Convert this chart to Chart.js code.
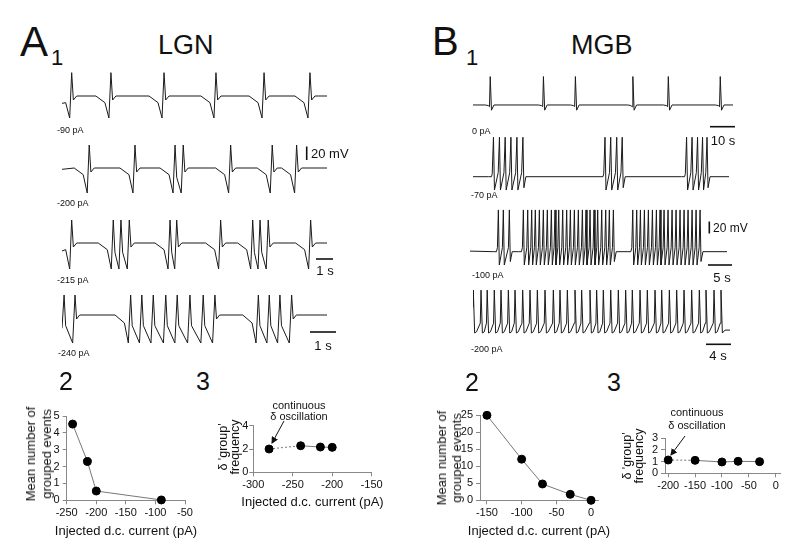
<!DOCTYPE html>
<html lang="en">
<head>
<meta charset="UTF-8">
<title>LGN / MGB grouped events</title>
<script src="https://cdn.jsdelivr.net/npm/chart.js"></script>
<style>
  body { margin: 0; background: #fff; }
  #fig { position: relative; width: 800px; height: 559px; overflow: hidden; font-family: "Liberation Sans", Arial, sans-serif; color: #111; }
  canvas { position: absolute; }
  .t { position: absolute; line-height: 1; white-space: nowrap; }
  .c { transform: translateX(-50%); }
  .xt { transform: translate(-50%, -50%); font-size: 13px; }
  .rot { transform: translate(-50%, -50%) rotate(-90deg); text-align: center; }
  svg { position: absolute; left: 0; top: 0; pointer-events: none; }
</style>
</head>
<body>
<div id="fig">
  <!-- headings -->
  <div class="t" style="left:20px;top:21px;font-size:42px">A</div>
  <div class="t" style="left:51px;top:47px;font-size:22px">1</div>
  <div class="t" style="left:158px;top:32px;font-size:27px">LGN</div>
  <div class="t" style="left:432px;top:21px;font-size:40px">B</div>
  <div class="t" style="left:466px;top:47px;font-size:22px">1</div>
  <div class="t" style="left:571px;top:32px;font-size:27px">MGB</div>

  <!-- voltage traces -->
  <canvas id="lgn90"  width="265" height="60" style="left:62px;top:66px"></canvas>
  <canvas id="lgn200" width="265" height="60" style="left:62px;top:138px"></canvas>
  <canvas id="lgn215" width="265" height="60" style="left:62px;top:213px"></canvas>
  <canvas id="lgn240" width="265" height="60" style="left:62px;top:285px"></canvas>
  <canvas id="mgb0"   width="260" height="50" style="left:473px;top:70px"></canvas>
  <canvas id="mgb70"  width="256" height="60" style="left:473px;top:133px"></canvas>
  <canvas id="mgb100" width="257" height="65" style="left:470px;top:205px"></canvas>
  <canvas id="mgb200" width="257" height="52" style="left:473px;top:285px"></canvas>

  <div class="t" style="left:57px;top:126px;font-size:9px">-90 pA</div>
  <div class="t" style="left:57px;top:199px;font-size:9px">-200 pA</div>
  <div class="t" style="left:57px;top:276px;font-size:9px">-215 pA</div>
  <div class="t" style="left:58px;top:349px;font-size:9px">-240 pA</div>
  <div class="t" style="left:472px;top:127px;font-size:9px">0 pA</div>
  <div class="t" style="left:471px;top:191px;font-size:9px">-70 pA</div>
  <div class="t" style="left:472px;top:271px;font-size:9px">-100 pA</div>
  <div class="t" style="left:471px;top:345px;font-size:9px">-200 pA</div>

  <div class="t" style="left:311px;top:147px;font-size:13px">20 mV</div>
  <div class="t c" style="left:325px;top:264px;font-size:13px">1 s</div>
  <div class="t c" style="left:323px;top:339px;font-size:13px">1 s</div>
  <div class="t c" style="left:723px;top:134px;font-size:13px">10 s</div>
  <div class="t" style="left:713px;top:222px;font-size:12px">20 mV</div>
  <div class="t c" style="left:722px;top:271px;font-size:13px">5 s</div>
  <div class="t c" style="left:718px;top:349px;font-size:13px">4 s</div>

  <!-- summary plots -->
  <div class="t c" style="left:66px;top:369px;font-size:25px">2</div>
  <div class="t c" style="left:203px;top:369px;font-size:25px">3</div>
  <div class="t c" style="left:472px;top:370px;font-size:25px">2</div>
  <div class="t c" style="left:614px;top:370px;font-size:25px">3</div>

  <canvas id="lgnGroups" width="160" height="125" style="left:40px;top:400px"></canvas>
  <canvas id="lgnFreq"   width="160" height="80"  style="left:235px;top:415px"></canvas>
  <canvas id="mgbGroups" width="162" height="115" style="left:450px;top:405px"></canvas>
  <canvas id="mgbFreq"   width="159" height="67"  style="left:636px;top:428px"></canvas>

  <div class="t rot" style="left:39px;top:454px;font-size:13px;line-height:16px">Mean number of<br>grouped events</div>
  <div class="t xt" style="left:126px;top:530px">Injected d.c. current (pA)</div>
  <div class="t rot" style="left:229px;top:447px;font-size:12.5px;line-height:12px">&delta; 'group'<br>frequency</div>
  <div class="t xt" style="left:312.5px;top:501px">Injected d.c. current (pA)</div>
  <div class="t rot" style="left:448.5px;top:458px;font-size:13px;line-height:15px">Mean number of<br>grouped events</div>
  <div class="t xt" style="left:539px;top:530px">Injected d.c. current (pA)</div>
  <div class="t rot" style="left:633px;top:456px;font-size:12.5px;line-height:12px">&delta; 'group'<br>frequency</div>

  <div class="t c" style="left:299px;top:400px;font-size:11px">continuous</div>
  <div class="t c" style="left:299px;top:411px;font-size:11px">&delta; oscillation</div>
  <div class="t c" style="left:697px;top:407px;font-size:11px">continuous</div>
  <div class="t c" style="left:697px;top:420px;font-size:11px">&delta; oscillation</div>

  <svg width="800" height="559">
    <defs>
      <marker id="ah" markerWidth="7" markerHeight="7" refX="6" refY="3.5" orient="auto" markerUnits="userSpaceOnUse">
        <path d="M0,0 L7,3.5 L0,7 z" fill="#111"/>
      </marker>
    </defs>
    <g stroke="#111" stroke-width="1.6">
      <line x1="306.7" y1="146.5" x2="306.7" y2="160"/>
      <line x1="316" y1="259" x2="333" y2="259"/>
      <line x1="310" y1="332" x2="336" y2="332"/>
      <line x1="710" y1="126.7" x2="735" y2="126.7"/>
      <line x1="709.3" y1="221.5" x2="709.3" y2="233.5"/>
      <line x1="708" y1="265" x2="732" y2="265"/>
      <line x1="706" y1="344.3" x2="731" y2="344.3"/>
    </g>
    <line x1="284" y1="421" x2="272" y2="443" stroke="#111" stroke-width="1" marker-end="url(#ah)"/>
    <line x1="685" y1="436" x2="671" y2="455" stroke="#111" stroke-width="1" marker-end="url(#ah)"/>
  </svg>
</div>

<script>
// ---- spike times (s) ----
const lgn90Spikes  = [0.58, 2.93, 6.11, 9.22, 12.10, 14.85];
const lgn200Spikes = [1.63, 4.37, 6.77, 7.26, 10.10, 12.59, 14.05];
const lgn215Spikes = [0.58, 3.07, 3.53, 4.03, 6.47, 6.87, 9.50, 11.42, 11.86, 12.35, 14.89];
const lgn240Spikes = [0.08, 0.50, 2.64, 3.07, 3.51, 3.99, 4.43, 4.92, 5.43, 5.88, 7.55, 7.97, 8.38, 8.83];

const mgb0Spikes  = [6.9, 28.2, 41.0, 64.0, 78.2, 99.0];
const mgb70Spikes = [8.2, 10.6, 12.9, 15.2, 17.6, 20.0, 52.9, 55.2, 57.6, 59.8, 85.6, 87.8, 90.0, 92.0, 93.8];
const mgb100Spikes = [5.98, 7.03, 8.30,
  11.25, 12.17, 13.01, 13.78, 14.63, 15.47, 16.31, 17.16, 17.93, 18.71, 19.55, 20.39,
  21.17, 22.01, 22.85, 23.70, 24.47, 25.32, 26.16, 26.93, 27.78, 28.62, 29.39, 30.24,
  34.32, 35.16, 35.94, 36.78, 37.62, 38.47, 39.31, 40.08, 40.93, 41.77, 42.62, 43.46,
  44.30, 45.15, 45.99, 46.84, 47.68, 48.52];
const mgb200Spikes = [0.05, 1.30, 2.30, 3.45, 4.54, 5.73, 6.81, 8.05, 9.24, 10.43, 11.67,
  13.02, 14.10, 15.29, 16.53, 17.61, 18.96, 20.04, 21.12, 22.32, 23.55, 24.74, 25.82,
  27.07, 28.25, 29.50, 30.58, 31.82, 33.01, 34.20, 35.44, 36.68, 37.76, 39.06, 40.19];

// trace durations (s)
const lgnDur = [15.87, 15.87, 15.87, 10.19];
const mgbDur = [104.1, 102.6, 54.2, 41.65];

// membrane levels (mV) and spike timing per trace
const lvLgn90  = {start: -71, rest: -60, sag: -70, lead: -93,   thr: -93,   trough: -93,   mid: -74, peak: -25,   notch: -66, dip: 0.9, pre: 0.12, post: 0.1, hold: 0, gap: 0.7};
const lvLgn200 = {start: -62, rest: -60, sag: -70, lead: -97.5, thr: -97.5, trough: -97.5, mid: -74, peak: -25.5, notch: -66, dip: 0.9, pre: 0.12, post: 0.1, hold: 0, gap: 0.7};
const lvLgn215 = {start: -72, rest: -60, sag: -70, lead: -99,   thr: -99,   trough: -99,   mid: -74, peak: -25.5, notch: -66, dip: 0.9, pre: 0.12, post: 0.1, hold: 0, gap: 0.7};
const lvLgn240 = {start: -80, rest: -60, sag: -72, lead: -102,  thr: -102,  trough: -102,  mid: -76, peak: -30,   notch: -66, dip: 0.6, pre: 0.09, post: 0.06, hold: 0, gap: 0.7};
const lvMgb0   = {start: -65, rest: -65, sag: -66, lead: -68, thr: -68, trough: -70, mid: -70, peak: -16, notch: -74, dip: 2, pre: 0.3, post: 0.5, hold: 0, gap: 3};
const lvMgb70  = {start: -65, rest: -65, sag: -65, lead: -60, thr: -58, trough: -88, mid: -88, peak: 3,   notch: -84, dip: 2, pre: 0.5, post: 0.4, hold: 0, gap: 3};
const lvMgb100 = {start: -64, rest: -65, sag: -65, lead: -58, thr: -58, trough: -88, mid: -88, peak: 7,   notch: -82, dip: 1, pre: 0.2, post: 0.2, hold: 0, gap: 1.5};
const lvMgb200 = {start: -40, rest: -80, sag: -80, lead: -68, thr: -68, trough: -85, mid: -85, peak: -11, notch: -85, dip: 0.5, pre: 0.12, post: 0.22, hold: 0.3, gap: 2};

// ---- summary data ----
const lgnCurrent = [-240, -215, -200, -90];
const lgnGroupedEvents = [4.52, 2.3, 0.55, 0.02];
const lgnFreqCurrent = [-280, -240, -215, -200];
const lgnDeltaFreq = [2.0, 2.28, 2.17, 2.14];

const mgbCurrent = [-150, -100, -70, -30, 0];
const mgbGroupedEvents = [25, 12.1, 4.8, 1.75, 0];
const mgbFreqCurrent = [-200, -150, -100, -70, -30];
const mgbDeltaFreq = [1.14, 1.11, 0.97, 1.03, 1.0];

// tick labels
const lgnGroupsXTicks = [-250, -200, -150, -100, -50];
const lgnGroupsYTicks = [0, 1, 2, 3, 4, 5];
const lgnFreqXTicks = [-300, -250, -200, -150];
const lgnFreqYTicks = [0, 2, 4];
const mgbGroupsXTicks = [-150, -100, -50, 0];
const mgbGroupsYTicks = [0, 5, 10, 15, 20, 25];
const mgbFreqXTicks = [-200, -150, -100, -50, 0];
const mgbFreqYTicks = [0, 1, 2, 3];

const FONT = '"Liberation Sans", Arial, sans-serif';

// turns spike times into a polyline of membrane potential
function buildTrace(spikes, lv, end) {
  const pts = [{x: 0, y: lv.start}];
  spikes.forEach((t, i) => {
    const prev = spikes[i - 1], next = spikes[i + 1];
    if (prev === undefined || t - prev > lv.gap) {
      pts.push({x: t - lv.dip, y: lv.rest});
      pts.push({x: t - lv.dip * 0.4, y: lv.sag});
      pts.push({x: t - lv.pre, y: lv.lead});
    } else {
      pts.push({x: t - lv.pre, y: lv.thr});
    }
    pts.push({x: t, y: lv.peak});
    if (next !== undefined && next - t <= lv.gap) {
      pts.push({x: t + lv.post, y: lv.mid});
      if (lv.hold) pts.push({x: t + lv.post + lv.hold, y: lv.trough + 2});
    } else {
      pts.push({x: t + lv.post, y: lv.notch});
      pts.push({x: t + lv.post * 3, y: lv.rest});
    }
  });
  pts.push({x: end, y: lv.rest});
  return pts.filter(p => p.x >= 0 && p.x <= end).sort((a, b) => a.x - b.x);
}

function traceChart(id, spikes, lv, end, yMin, yMax) {
  new Chart(document.getElementById(id), {
    type: 'line',
    data: {datasets: [{
      data: buildTrace(spikes, lv, end),
      borderColor: '#1a1a1a', borderWidth: 1, pointRadius: 0, tension: 0, clip: 3
    }]},
    options: {
      animation: false, responsive: false, events: [],
      plugins: {legend: {display: false}, tooltip: {enabled: false}},
      layout: {padding: 0},
      scales: {
        x: {type: 'linear', min: 0, max: end, display: false},
        y: {min: yMin, max: yMax, display: false}
      }
    }
  });
}

traceChart('lgn90',  lgn90Spikes,  lvLgn90,  lgnDur[0], -105, -15);
traceChart('lgn200', lgn200Spikes, lvLgn200, lgnDur[1], -105, -15);
traceChart('lgn215', lgn215Spikes, lvLgn215, lgnDur[2], -105, -15);
traceChart('lgn240', lgn240Spikes, lvLgn240, lgnDur[3], -105, -15);
traceChart('mgb0',   mgb0Spikes,   lvMgb0,   mgbDur[0], -90.9, -4.7);
traceChart('mgb70',  mgb70Spikes,  lvMgb70,  mgbDur[1], -93.1, 10.3);
traceChart('mgb100', mgb100Spikes, lvMgb100, mgbDur[2], -96.6, 15.5);
traceChart('mgb200', mgb200Spikes, lvMgb200, mgbDur[3], -91.9, -2.2);

// summary scatter plots; o.area = plot area inside the canvas
function groupPlot(id, xs, ys, o) {
  const cv = document.getElementById(id);
  const W = cv.width, H = cv.height, a = o.area;
  new Chart(cv, {
    type: 'scatter',
    data: {datasets: [{
      data: xs.map((x, i) => ({x: x, y: ys[i]})),
      showLine: true, borderColor: '#777', borderWidth: 1,
      pointRadius: 4, pointBackgroundColor: '#000', pointBorderColor: '#000',
      clip: false,
      segment: {borderDash: c => (o.dashFirst && c.p0DataIndex === 0) ? [2, 2] : undefined}
    }]},
    options: {
      animation: false, responsive: false, events: [],
      plugins: {legend: {display: false}, tooltip: {enabled: false}},
      layout: {padding: {top: a.top, right: W - a.right, left: 0, bottom: 0}},
      scales: {
        x: {
          type: 'linear', min: o.xMin, max: o.xMax,
          afterBuildTicks: s => { s.ticks = o.xTicks.map(v => ({value: v})); },
          afterFit: s => { s.height = H - a.bottom; },
          ticks: {font: {family: FONT, size: 11}, color: '#111', padding: 2, maxRotation: 0, autoSkip: false},
          grid: {drawOnChartArea: false, tickLength: 4, color: '#888'},
          border: {color: '#888'}
        },
        y: {
          min: o.yMin, max: o.yMax,
          afterBuildTicks: s => { s.ticks = o.yTicks.map(v => ({value: v})); },
          afterFit: s => { s.width = a.left; },
          ticks: {font: {family: FONT, size: 11}, color: '#111', padding: o.yPad, autoSkip: false},
          grid: {drawOnChartArea: false, tickLength: 4, color: '#888'},
          border: {color: '#888'}
        }
      }
    }
  });
}

groupPlot('lgnGroups', lgnCurrent, lgnGroupedEvents, {
  area: {left: 26.7, top: 16, right: 145, bottom: 100.3},
  xMin: -250, xMax: -50, yMin: 0, yMax: 5,
  xTicks: lgnGroupsXTicks, yTicks: lgnGroupsYTicks, yPad: 3
});
groupPlot('lgnFreq', lgnFreqCurrent, lgnDeltaFreq, {
  area: {left: 18.3, top: 10.7, right: 136.7, bottom: 57.3},
  xMin: -300, xMax: -150, yMin: 0, yMax: 4, dashFirst: true,
  xTicks: lgnFreqXTicks, yTicks: lgnFreqYTicks, yPad: 1
});
groupPlot('mgbGroups', mgbCurrent, mgbGroupedEvents, {
  area: {left: 30, top: 10.3, right: 148, bottom: 95.3},
  xMin: -160, xMax: 10, yMin: 0, yMax: 25,
  xTicks: mgbGroupsXTicks, yTicks: mgbGroupsYTicks, yPad: 3
});
groupPlot('mgbFreq', mgbFreqCurrent, mgbDeltaFreq, {
  area: {left: 29, top: 10.3, right: 144, bottom: 45.3},
  xMin: -206, xMax: 8, yMin: 0, yMax: 3, dashFirst: true,
  xTicks: mgbFreqXTicks, yTicks: mgbFreqYTicks, yPad: 3
});
</script>
</body>
</html>
